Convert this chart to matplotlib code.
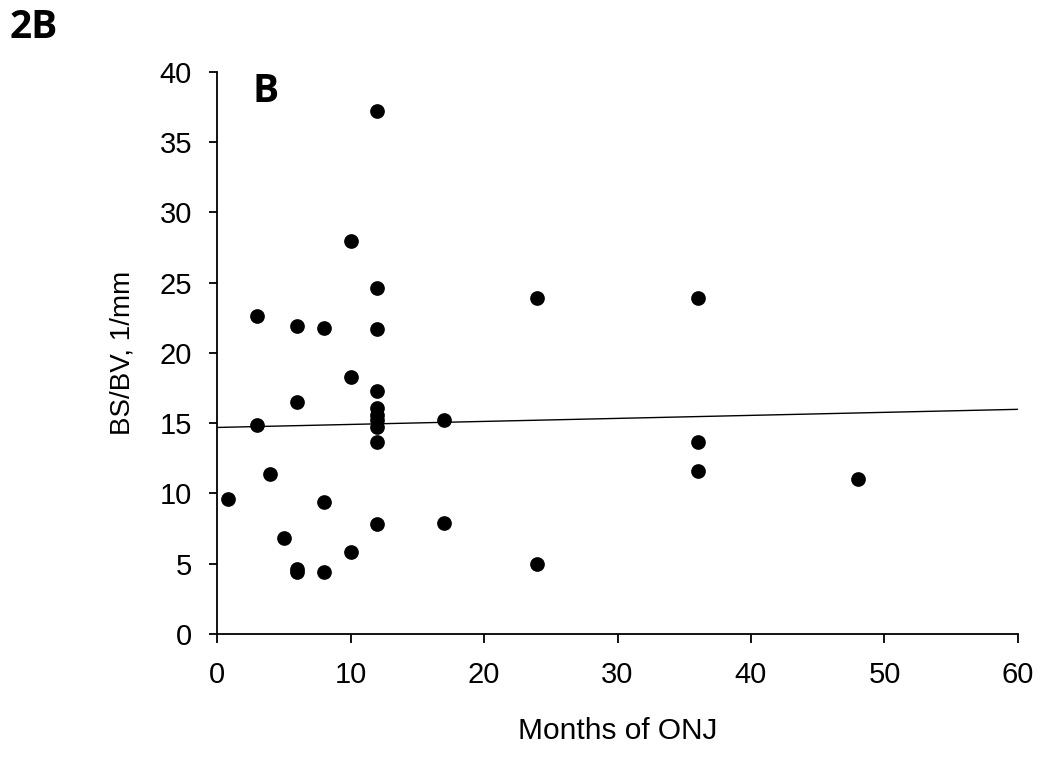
import matplotlib
matplotlib.use("Agg")
import matplotlib.pyplot as plt
import numpy as np

# months of ONJ vs BS/BV (1/mm)
months = [0.8, 3, 3, 4, 5, 6, 6, 6, 6, 8, 8, 8,
          10, 10, 10, 12, 12, 12, 12, 12, 12, 12, 12, 12, 12,
          17, 17, 24, 24, 36, 36, 36, 48]
bsbv = [9.6, 14.9, 22.6, 11.4, 6.8, 16.5, 21.9, 4.4, 4.6, 9.4, 4.4, 21.8,
        18.3, 5.8, 28.0, 37.2, 24.6, 21.7, 17.3, 16.1, 15.6, 15.2, 14.7, 13.7, 7.8,
        15.2, 7.9, 23.9, 5.0, 23.9, 13.7, 11.6, 11.0]

# trend line as drawn (intercept, slope)
fit_intercept = 14.7
fit_slope = 0.0215

xticks = [0, 10, 20, 30, 40, 50, 60]
yticks = [0, 5, 10, 15, 20, 25, 30, 35, 40]

plt.rcParams['font.family'] = ['Liberation Sans', 'DejaVu Sans']

fig = plt.figure(figsize=(10.5, 7.61), dpi=100)
ax = fig.add_axes([0.2067, 0.1669, 0.7628, 0.7385])

ax.scatter(months, bsbv, s=112, color='black', zorder=3, linewidths=0)
xl = np.array([0, 60])
ax.plot(xl, fit_intercept + fit_slope * xl, color='black', lw=1.0, zorder=2)

ax.set_xlim(0, 60)
ax.set_ylim(0, 40)
ax.set_xticks(xticks)
ax.set_yticks(yticks)
ax.spines['top'].set_visible(False)
ax.spines['right'].set_visible(False)
for s in ['left', 'bottom']:
    ax.spines[s].set_linewidth(1.3)
ax.tick_params(axis='both', direction='out', width=1.3, labelsize=21)
ax.tick_params(axis='y', length=6, pad=12)
ax.tick_params(axis='x', length=6.5, pad=13)

ax.set_xlabel('Months of ONJ', fontsize=21.5, labelpad=20)
ax.set_ylabel('BS/BV, 1/mm', fontsize=20, labelpad=17)

fig.text(253 / 1050, 1 - 72 / 761, 'B', fontsize=28, fontweight='bold',
         family=['Open Sans', 'DejaVu Sans'], va='top', ha='left')
fig.text(10 / 1050, 1 - 8 / 761, '2B', fontsize=28, fontweight='bold',
         family=['Open Sans', 'DejaVu Sans'], va='top', ha='left')

fig.savefig('out.png', dpi=100)
